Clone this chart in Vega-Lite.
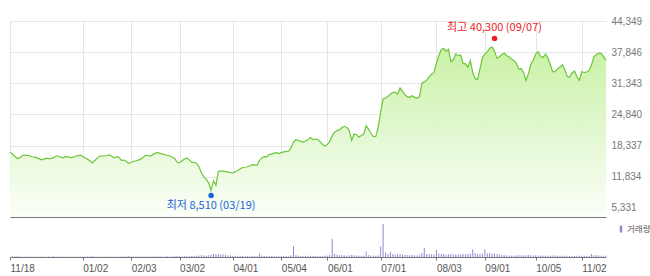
{
  "$schema": "https://vega.github.io/schema/vega-lite/v6.json",
  "padding": {"left": 7, "top": 16, "right": 0, "bottom": 0},
  "background": "white",
  "spacing": 0,
  "config": {"view": {"stroke": null}, "font": "Liberation Sans"},
  "datasets": {
    "prices": [
      {"d":"2019-11-18","p":16950,"v":120000},{"d":"2019-11-19","p":16550,"v":210000},{"d":"2019-11-20","p":16100,"v":150000},{"d":"2019-11-21","p":15600,"v":240000},{"d":"2019-11-22","p":15750,"v":180000},
      {"d":"2019-11-25","p":16200,"v":120000},{"d":"2019-11-26","p":16350,"v":90000},{"d":"2019-11-27","p":16300,"v":150000},{"d":"2019-11-28","p":16200,"v":120000},{"d":"2019-11-29","p":16000,"v":90000},
      {"d":"2019-12-02","p":15900,"v":120000},{"d":"2019-12-03","p":15800,"v":90000},{"d":"2019-12-04","p":15600,"v":150000},{"d":"2019-12-05","p":15350,"v":180000},{"d":"2019-12-06","p":15500,"v":120000},
      {"d":"2019-12-09","p":15700,"v":90000},{"d":"2019-12-10","p":15600,"v":120000},{"d":"2019-12-11","p":15650,"v":90000},{"d":"2019-12-12","p":15800,"v":240000},{"d":"2019-12-13","p":16150,"v":150000},
      {"d":"2019-12-16","p":16150,"v":120000},{"d":"2019-12-17","p":15900,"v":90000},{"d":"2019-12-18","p":15750,"v":120000},{"d":"2019-12-19","p":16050,"v":90000},{"d":"2019-12-20","p":15950,"v":120000},
      {"d":"2019-12-23","p":15800,"v":90000},{"d":"2019-12-24","p":15850,"v":60000},{"d":"2019-12-26","p":16100,"v":90000},{"d":"2019-12-27","p":16250,"v":120000},{"d":"2019-12-30","p":16350,"v":90000},
      {"d":"2020-01-02","p":16050,"v":150000},{"d":"2020-01-03","p":15750,"v":120000},{"d":"2020-01-06","p":15500,"v":150000},{"d":"2020-01-07","p":15100,"v":210000},{"d":"2020-01-08","p":14700,"v":270000},
      {"d":"2020-01-09","p":15200,"v":180000},{"d":"2020-01-10","p":15700,"v":150000},{"d":"2020-01-13","p":16100,"v":120000},{"d":"2020-01-14","p":16200,"v":120000},{"d":"2020-01-15","p":16150,"v":90000},
      {"d":"2020-01-16","p":16250,"v":120000},{"d":"2020-01-17","p":16400,"v":150000},{"d":"2020-01-20","p":16100,"v":120000},{"d":"2020-01-21","p":15750,"v":150000},{"d":"2020-01-22","p":16000,"v":120000},
      {"d":"2020-01-23","p":15900,"v":90000},{"d":"2020-01-28","p":15250,"v":180000},{"d":"2020-01-29","p":15300,"v":150000},{"d":"2020-01-30","p":15000,"v":210000},{"d":"2020-01-31","p":14600,"v":240000},
      {"d":"2020-02-03","p":14800,"v":180000},{"d":"2020-02-04","p":15050,"v":150000},{"d":"2020-02-05","p":15150,"v":120000},{"d":"2020-02-06","p":15300,"v":150000},{"d":"2020-02-07","p":15550,"v":120000},
      {"d":"2020-02-10","p":15900,"v":150000},{"d":"2020-02-11","p":16300,"v":210000},{"d":"2020-02-12","p":16250,"v":150000},{"d":"2020-02-13","p":16150,"v":120000},{"d":"2020-02-14","p":16450,"v":150000},
      {"d":"2020-02-17","p":16750,"v":210000},{"d":"2020-02-18","p":16850,"v":180000},{"d":"2020-02-19","p":16700,"v":150000},{"d":"2020-02-20","p":16550,"v":120000},{"d":"2020-02-21","p":16400,"v":150000},
      {"d":"2020-02-24","p":16300,"v":210000},{"d":"2020-02-25","p":16150,"v":180000},{"d":"2020-02-26","p":15950,"v":210000},{"d":"2020-02-27","p":15600,"v":240000},{"d":"2020-02-28","p":14850,"v":300000},
      {"d":"2020-03-02","p":14750,"v":270000},{"d":"2020-03-03","p":15150,"v":210000},{"d":"2020-03-04","p":15500,"v":240000},{"d":"2020-03-05","p":15750,"v":210000},{"d":"2020-03-06","p":15350,"v":240000},
      {"d":"2020-03-09","p":14850,"v":300000},{"d":"2020-03-10","p":14800,"v":330000},{"d":"2020-03-11","p":14650,"v":300000},{"d":"2020-03-12","p":13900,"v":420000},{"d":"2020-03-13","p":12650,"v":540000},
      {"d":"2020-03-16","p":11800,"v":450000},{"d":"2020-03-17","p":11300,"v":420000},{"d":"2020-03-18","p":10550,"v":510000},{"d":"2020-03-19","p":8980,"v":660000},{"d":"2020-03-20","p":10950,"v":900000},
      {"d":"2020-03-23","p":10000,"v":780000},{"d":"2020-03-24","p":12950,"v":840000},{"d":"2020-03-25","p":13000,"v":810000},{"d":"2020-03-26","p":13000,"v":720000},{"d":"2020-03-27","p":12900,"v":660000},
      {"d":"2020-03-30","p":12800,"v":510000},{"d":"2020-03-31","p":12700,"v":450000},{"d":"2020-04-01","p":12600,"v":360000},{"d":"2020-04-02","p":12850,"v":300000},{"d":"2020-04-03","p":13100,"v":330000},
      {"d":"2020-04-06","p":13500,"v":360000},{"d":"2020-04-07","p":13750,"v":300000},{"d":"2020-04-08","p":13800,"v":270000},{"d":"2020-04-09","p":13900,"v":300000},{"d":"2020-04-10","p":14050,"v":270000},
      {"d":"2020-04-13","p":14350,"v":330000},{"d":"2020-04-14","p":14300,"v":300000},{"d":"2020-04-16","p":14200,"v":270000},{"d":"2020-04-17","p":15200,"v":1050000},{"d":"2020-04-20","p":15800,"v":390000},
      {"d":"2020-04-21","p":16000,"v":300000},{"d":"2020-04-22","p":15950,"v":270000},{"d":"2020-04-23","p":16500,"v":300000},{"d":"2020-04-24","p":16550,"v":270000},{"d":"2020-04-27","p":16750,"v":240000},
      {"d":"2020-04-28","p":16850,"v":270000},{"d":"2020-04-29","p":16650,"v":240000},{"d":"2020-05-04","p":16850,"v":270000},{"d":"2020-05-06","p":17000,"v":300000},{"d":"2020-05-07","p":17100,"v":270000},
      {"d":"2020-05-08","p":17150,"v":240000},{"d":"2020-05-11","p":17900,"v":480000},{"d":"2020-05-12","p":19050,"v":3300000},{"d":"2020-05-13","p":19550,"v":600000},{"d":"2020-05-14","p":19400,"v":330000},
      {"d":"2020-05-15","p":19200,"v":300000},{"d":"2020-05-18","p":19050,"v":270000},{"d":"2020-05-19","p":19300,"v":300000},{"d":"2020-05-20","p":19550,"v":330000},{"d":"2020-05-21","p":20000,"v":390000},
      {"d":"2020-05-22","p":19600,"v":300000},{"d":"2020-05-25","p":19700,"v":270000},{"d":"2020-05-26","p":19650,"v":240000},{"d":"2020-05-27","p":19150,"v":300000},{"d":"2020-05-28","p":18550,"v":330000},
      {"d":"2020-05-29","p":18300,"v":360000},{"d":"2020-06-01","p":18550,"v":420000},{"d":"2020-06-02","p":19250,"v":600000},{"d":"2020-06-03","p":20400,"v":5400000},{"d":"2020-06-04","p":21100,"v":900000},
      {"d":"2020-06-05","p":21450,"v":750000},{"d":"2020-06-08","p":21600,"v":510000},{"d":"2020-06-09","p":22100,"v":570000},{"d":"2020-06-10","p":22350,"v":480000},{"d":"2020-06-11","p":22100,"v":420000},
      {"d":"2020-06-12","p":21500,"v":450000},{"d":"2020-06-15","p":19450,"v":600000},{"d":"2020-06-16","p":20700,"v":540000},{"d":"2020-06-17","p":20650,"v":420000},{"d":"2020-06-18","p":20100,"v":390000},
      {"d":"2020-06-19","p":20450,"v":360000},{"d":"2020-06-22","p":20700,"v":420000},{"d":"2020-06-23","p":22500,"v":1650000},{"d":"2020-06-24","p":21750,"v":540000},{"d":"2020-06-25","p":20850,"v":420000},
      {"d":"2020-06-26","p":20200,"v":390000},{"d":"2020-06-29","p":20250,"v":360000},{"d":"2020-06-30","p":22250,"v":480000},{"d":"2020-07-01","p":25300,"v":3200000},{"d":"2020-07-02","p":28050,"v":9900000},
      {"d":"2020-07-03","p":28250,"v":1300000},{"d":"2020-07-06","p":28600,"v":900000},{"d":"2020-07-07","p":29050,"v":1500000},{"d":"2020-07-08","p":29450,"v":900000},{"d":"2020-07-09","p":29450,"v":750000},
      {"d":"2020-07-10","p":29100,"v":810000},{"d":"2020-07-13","p":30350,"v":840000},{"d":"2020-07-14","p":29650,"v":720000},{"d":"2020-07-15","p":28950,"v":660000},{"d":"2020-07-16","p":28550,"v":600000},
      {"d":"2020-07-17","p":28400,"v":540000},{"d":"2020-07-20","p":28750,"v":570000},{"d":"2020-07-21","p":28400,"v":510000},{"d":"2020-07-22","p":28250,"v":480000},{"d":"2020-07-23","p":28450,"v":540000},
      {"d":"2020-07-24","p":31300,"v":1200000},{"d":"2020-07-27","p":31650,"v":2700000},{"d":"2020-07-28","p":32000,"v":900000},{"d":"2020-07-29","p":32750,"v":840000},{"d":"2020-07-30","p":33300,"v":780000},
      {"d":"2020-07-31","p":33550,"v":810000},{"d":"2020-08-03","p":35550,"v":2100000},{"d":"2020-08-04","p":37150,"v":1050000},{"d":"2020-08-05","p":38350,"v":900000},{"d":"2020-08-06","p":38650,"v":840000},
      {"d":"2020-08-07","p":38000,"v":750000},{"d":"2020-08-10","p":38450,"v":810000},{"d":"2020-08-11","p":35850,"v":960000},{"d":"2020-08-12","p":36300,"v":780000},{"d":"2020-08-13","p":37450,"v":720000},
      {"d":"2020-08-14","p":37100,"v":780000},{"d":"2020-08-18","p":37250,"v":810000},{"d":"2020-08-19","p":35500,"v":900000},{"d":"2020-08-20","p":35400,"v":840000},{"d":"2020-08-21","p":34700,"v":960000},
      {"d":"2020-08-24","p":36100,"v":1050000},{"d":"2020-08-25","p":33600,"v":2300000},{"d":"2020-08-26","p":32300,"v":1100000},{"d":"2020-08-27","p":32150,"v":900000},{"d":"2020-08-28","p":34350,"v":960000},
      {"d":"2020-08-31","p":36700,"v":1000000},{"d":"2020-09-01","p":37500,"v":2300000},{"d":"2020-09-02","p":37900,"v":1100000},{"d":"2020-09-03","p":38650,"v":1200000},{"d":"2020-09-04","p":38900,"v":960000},
      {"d":"2020-09-07","p":38000,"v":1050000},{"d":"2020-09-08","p":36600,"v":900000},{"d":"2020-09-09","p":36900,"v":750000},{"d":"2020-09-10","p":37350,"v":600000},{"d":"2020-09-11","p":37600,"v":540000},
      {"d":"2020-09-14","p":37100,"v":480000},{"d":"2020-09-15","p":36900,"v":450000},{"d":"2020-09-16","p":36400,"v":420000},{"d":"2020-09-17","p":36050,"v":450000},{"d":"2020-09-18","p":35500,"v":480000},
      {"d":"2020-09-21","p":34350,"v":540000},{"d":"2020-09-22","p":34400,"v":510000},{"d":"2020-09-23","p":33550,"v":480000},{"d":"2020-09-24","p":31950,"v":600000},{"d":"2020-09-25","p":33350,"v":570000},
      {"d":"2020-09-28","p":35350,"v":540000},{"d":"2020-09-29","p":36150,"v":480000},{"d":"2020-10-05","p":37450,"v":510000},{"d":"2020-10-06","p":37950,"v":450000},{"d":"2020-10-07","p":37000,"v":420000},
      {"d":"2020-10-08","p":36700,"v":390000},{"d":"2020-10-12","p":37450,"v":360000},{"d":"2020-10-13","p":36650,"v":390000},{"d":"2020-10-14","p":35250,"v":420000},{"d":"2020-10-15","p":33750,"v":450000},
      {"d":"2020-10-16","p":33800,"v":420000},{"d":"2020-10-19","p":34350,"v":390000},{"d":"2020-10-20","p":34750,"v":360000},{"d":"2020-10-21","p":35200,"v":330000},{"d":"2020-10-22","p":34150,"v":360000},
      {"d":"2020-10-23","p":32750,"v":390000},{"d":"2020-10-26","p":32650,"v":360000},{"d":"2020-10-27","p":33500,"v":330000},{"d":"2020-10-28","p":33900,"v":300000},{"d":"2020-10-29","p":32750,"v":330000},
      {"d":"2020-10-30","p":31950,"v":360000},{"d":"2020-11-02","p":33750,"v":390000},{"d":"2020-11-03","p":33600,"v":360000},{"d":"2020-11-04","p":33700,"v":330000},{"d":"2020-11-05","p":34000,"v":360000},
      {"d":"2020-11-06","p":35100,"v":900000},{"d":"2020-11-09","p":36850,"v":600000},{"d":"2020-11-10","p":37350,"v":510000},{"d":"2020-11-11","p":37600,"v":450000},{"d":"2020-11-12","p":37550,"v":390000},
      {"d":"2020-11-13","p":36900,"v":360000},{"d":"2020-11-16","p":36250,"v":330000}
    ],
    "marks": [
      {"d":"2020-09-07","p":40300,"k":"high","label":"최고 40,300 (09/07)"},
      {"d":"2020-03-19","p":8510,"k":"low","label":"최저 8,510 (03/19)"}
    ]
  },
  "vconcat": [
    {
      "width": 596,
      "height": 196,
      "encoding": {
        "x": {"field": "d", "type": "ordinal", "scale": {"type": "point", "padding": 0},
          "axis": {"values": ["2019-11-18","2020-01-02","2020-02-03","2020-03-02","2020-04-01","2020-05-04","2020-06-01","2020-07-01","2020-08-03","2020-09-01","2020-10-05","2020-11-02"],
            "labels": false, "ticks": false, "grid": true, "gridColor": "#e6e6e6", "domain": true, "domainColor": "#777777", "title": null}},
        "y": {"field": "p", "type": "quantitative", "scale": {"domain": [3408, 44349], "nice": false, "zero": false},
          "axis": {"orient": "right", "values": [5331, 11834, 18337, 24840, 31343, 37846, 44349], "labelExpr": "format(datum.value, ',')", "labelOverlap": false, "grid": true, "gridColor": "#e6e6e6",
            "domain": false, "ticks": false, "labelFontSize": 10, "labelColor": "#777777", "labelPadding": 5, "labelFont": "Liberation Sans", "title": null}}
      },
      "layer": [
        {
          "data": {"name": "prices"},
          "mark": {
            "type": "area",
            "color": {"gradient": "linear", "x1": 0, "y1": 0, "x2": 0, "y2": 1,
              "stops": [{"offset": 0, "color": "#c4f09c"}, {"offset": 0.55, "color": "#e3f8d2"}, {"offset": 1, "color": "#fbfff8"}]},
            "opacity": 0.92,
            "line": {"color": "#6cc63a", "strokeWidth": 1.2}
          },
          "encoding": {"y2": {"datum": 3408}}
        },
        {
          "data": {"name": "marks"},
          "transform": [{"filter": "datum.k == 'high'"}],
          "mark": {"type": "point", "filled": true, "opacity": 1, "color": "#ee1c24", "size": 30, "yOffset": -2}
        },
        {
          "data": {"name": "marks"},
          "transform": [{"filter": "datum.k == 'high'"}],
          "mark": {"type": "text", "color": "#ee1c24", "fontSize": 11, "font": "Noto Sans CJK KR", "align": "center", "baseline": "middle", "dy": -12},
          "encoding": {"text": {"field": "label"}}
        },
        {
          "data": {"name": "marks"},
          "transform": [{"filter": "datum.k == 'low'"}],
          "mark": {"type": "point", "filled": true, "opacity": 1, "color": "#1e64d8", "size": 30, "yOffset": 3}
        },
        {
          "data": {"name": "marks"},
          "transform": [{"filter": "datum.k == 'low'"}],
          "mark": {"type": "text", "color": "#1e64d8", "fontSize": 11, "font": "Noto Sans CJK KR", "align": "center", "baseline": "middle", "dy": 13},
          "encoding": {"text": {"field": "label"}}
        }
      ]
    },
    {
      "width": 596,
      "height": 40,
      "data": {"name": "prices"},
      "mark": {"type": "rule", "strokeWidth": 1},
      "encoding": {
        "x": {"field": "d", "type": "ordinal", "scale": {"type": "point", "padding": 0},
          "axis": {"values": ["2019-11-18","2020-01-02","2020-02-03","2020-03-02","2020-04-01","2020-05-04","2020-06-01","2020-07-01","2020-08-03","2020-09-01","2020-10-05","2020-11-02"],
            "labelExpr": "substring(datum.value, 5, 7) + '/' + substring(datum.value, 8, 10)",
            "labelAlign": "left", "labelAngle": 0, "labelFontSize": 10, "labelColor": "#555555", "labelFont": "Liberation Sans", "labelPadding": 3, "labelOverlap": false,
            "grid": false, "ticks": true, "tickSize": 3, "tickColor": "#777777", "domain": true, "domainColor": "#777777", "title": null}},
        "y": {"field": "v", "type": "quantitative", "scale": {"domain": [0, 12000000], "nice": false}, "axis": null},
        "y2": {"datum": 0},
        "color": {"datum": "거래량", "scale": {"range": ["#9a84d8"]},
          "legend": {"orient": "none", "legendX": 606, "legendY": 203, "padding": 0, "title": null,
            "symbolType": "M0,-1L0,1", "symbolSize": 49, "symbolStrokeWidth": 2.5,
            "labelFontSize": 8.5, "labelFont": "Noto Sans CJK KR", "labelColor": "#555555", "labelOffset": 1}}
      }
    }
  ]
}
